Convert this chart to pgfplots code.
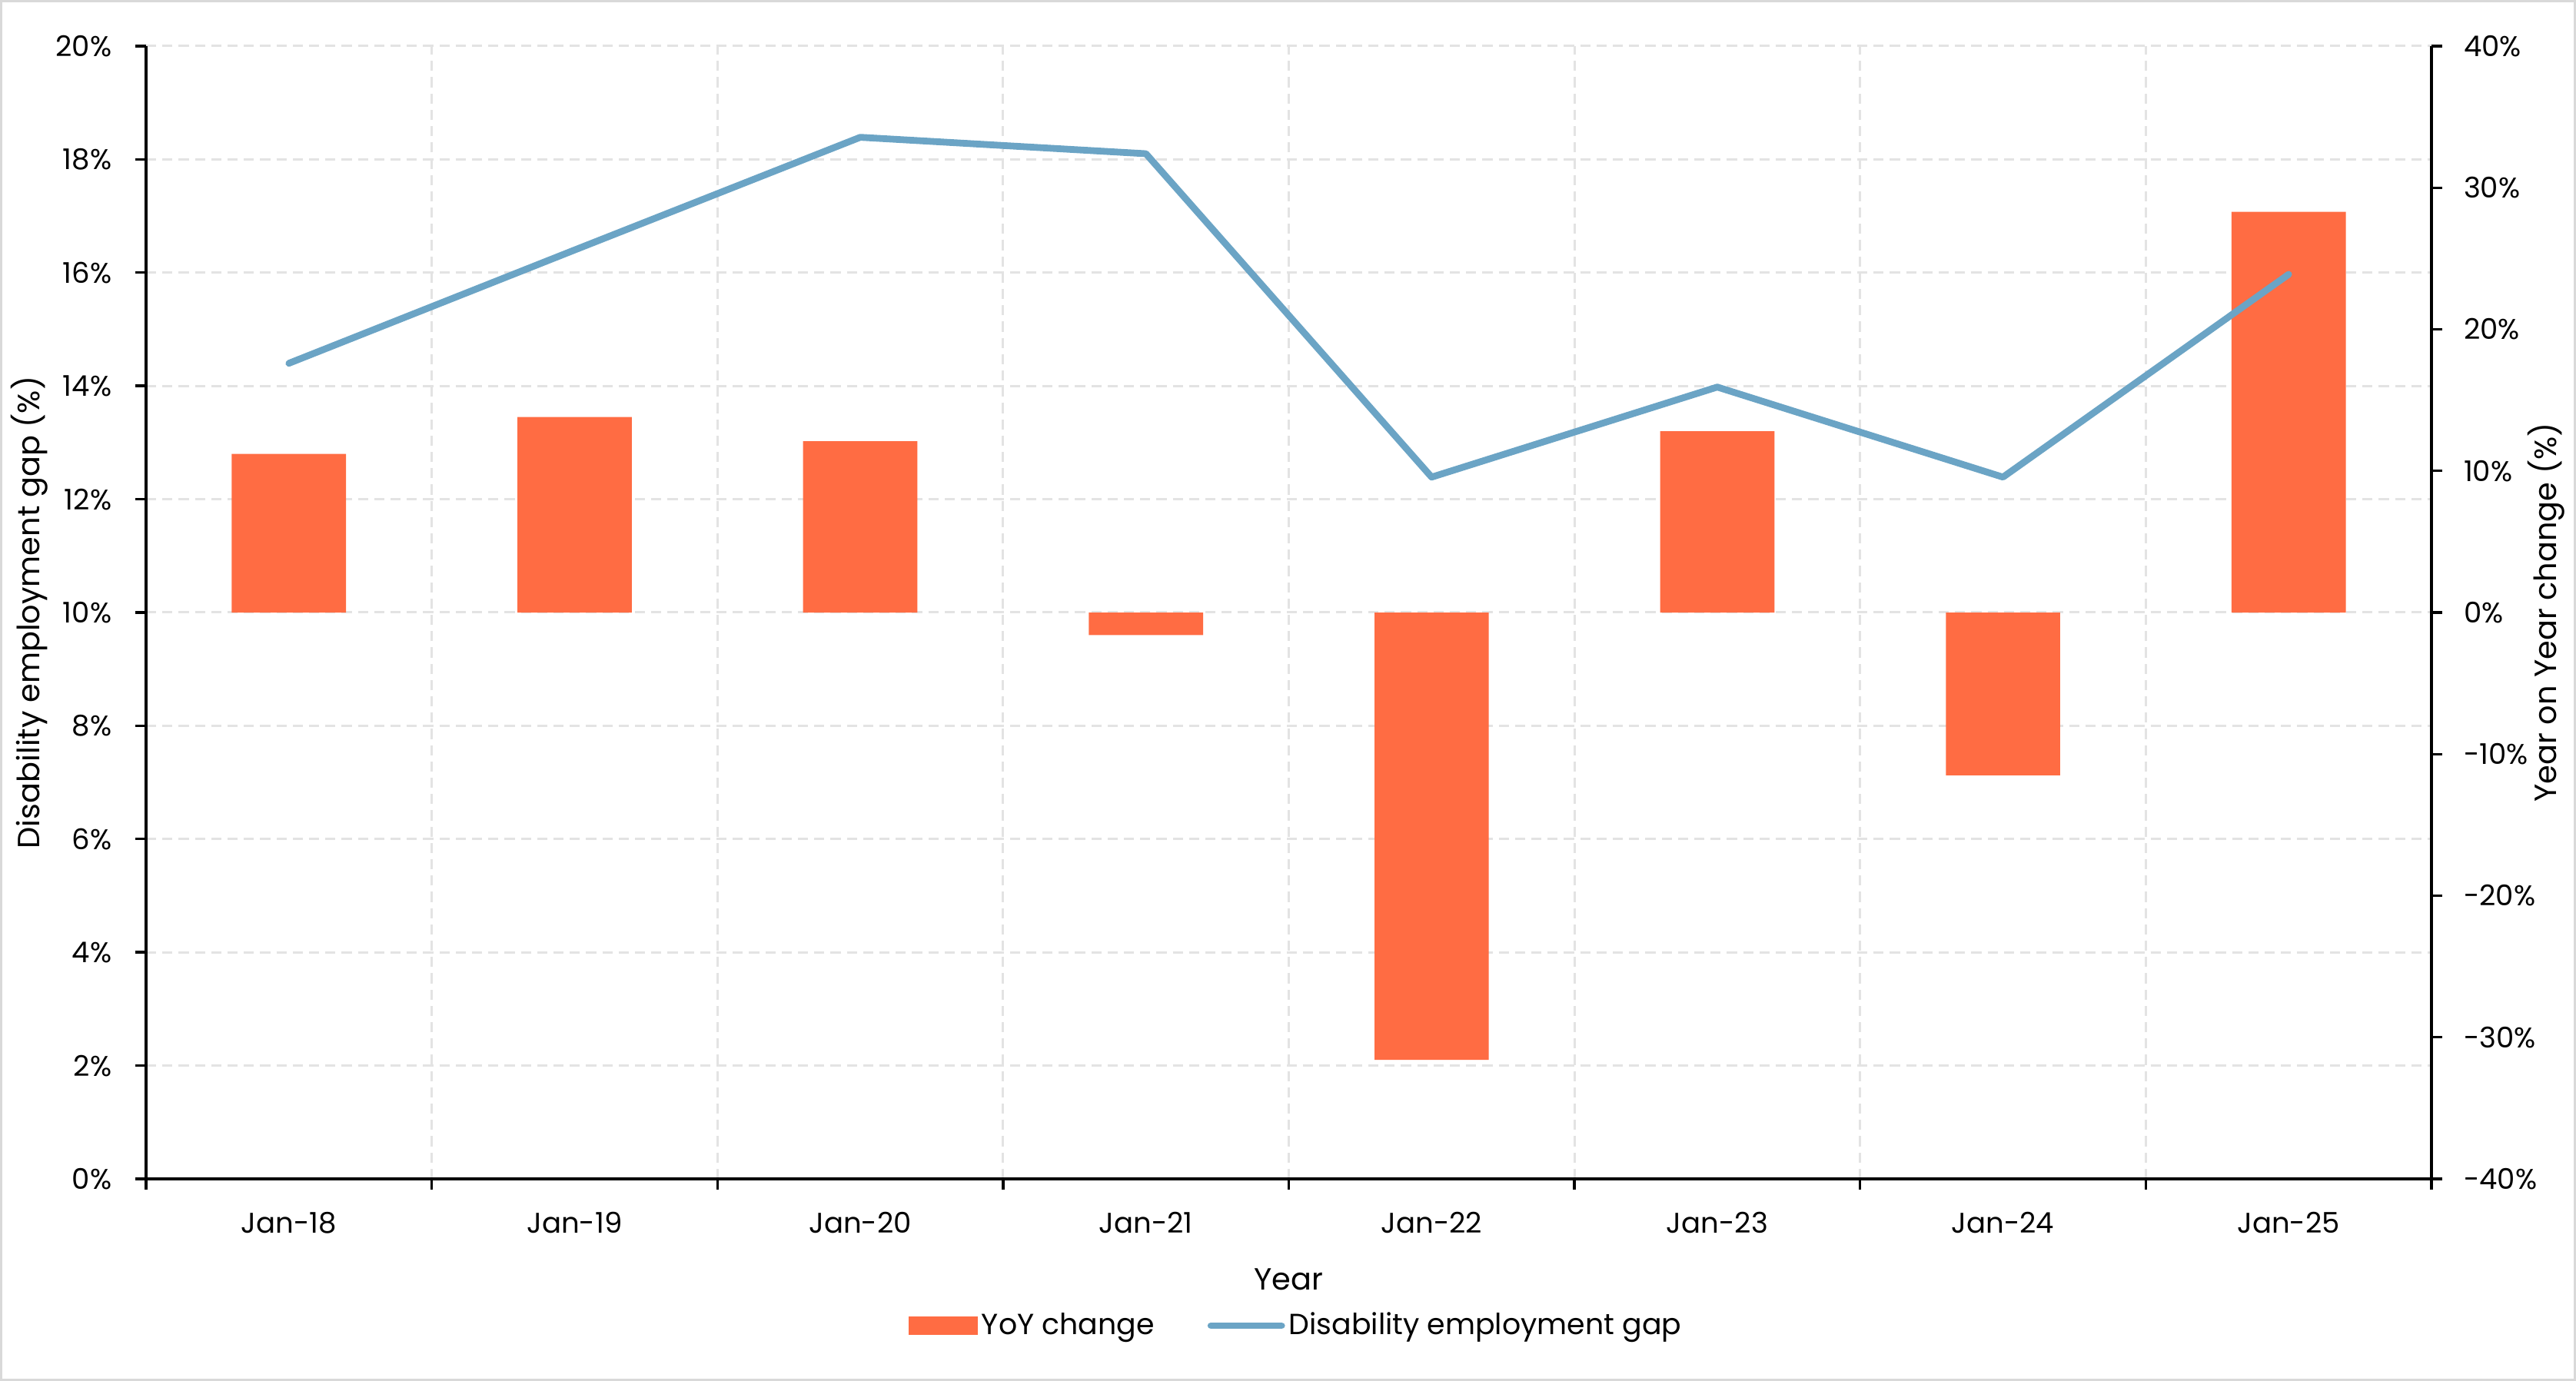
\documentclass[border=0pt]{standalone}
\usepackage{pgfplots}
\usepackage{pgfplotstable}
\pgfplotsset{compat=1.18}
\usepackage{fontspec}
\setmainfont{Poppins}
\definecolor{barc}{HTML}{FF6C43}
\definecolor{linec}{HTML}{6BA4C5}
\definecolor{gridc}{HTML}{E3E3E3}
\definecolor{framec}{HTML}{D9D9D9}

\pgfplotstableread{
x yoy gap
0 11.2 14.40
1 13.8 16.40
2 12.1 18.39
3 -1.6 18.10
4 -31.6 12.39
5 12.8 13.98
6 -11.5 12.39
7 28.3 15.97
}\data

\pgfplotsset{
  common/.style={
    at={(47.5bp,65.75bp)}, anchor=south west,
    scale only axis, width=743.25bp, height=368.5bp,
    xmin=-0.5, xmax=7.5,
    tick label style={font=\fontsize{9.3}{11}\selectfont},
    label style={font=\fontsize{10.9}{12}\selectfont},
    axis line style={black, line width=0.85bp, -},
    every outer x axis line/.append style={-},
    every outer y axis line/.append style={-},
    tick style={black, line width=0.85bp},
    tick align=outside,
    major tick length=3.4bp,
  }
}

\begin{document}
\begin{tikzpicture}
\draw[framec, line width=0.75bp] (0.375bp,0.375bp) rectangle (837.375bp,448.875bp);

% Left axis with grid
\begin{axis}[common,
  ymin=0, ymax=20,
  axis x line*=bottom, axis y line*=left,
  xtick={-0.5,0.5,1.5,2.5,3.5,4.5,5.5,6.5,7.5}, xticklabels={},
  xmajorgrids,
  extra x ticks={0,1,2,3,4,5,6,7},
  extra x tick labels={Jan-18,Jan-19,Jan-20,Jan-21,Jan-22,Jan-23,Jan-24,Jan-25},
  extra x tick style={major tick length=0pt, grid=none},
  xticklabel style={anchor=base, inner sep=0pt, yshift=-17.6bp},
  ytick={0,2,4,6,8,10,12,14,16,18,20},
  yticklabels={0\%,2\%,4\%,6\%,8\%,10\%,12\%,14\%,16\%,18\%,20\%},
  yticklabel style={anchor=east, inner sep=0pt, xshift=-7.6bp},
  ymajorgrids,
  major grid style={gridc, line width=0.75bp, dash pattern=on 3.3bp off 2bp},
  xlabel={Year},
  ylabel={Disability employment gap (\%)},
  every axis x label/.style={at={(rel axis cs:0.5,0)}, yshift=-36bp, anchor=base},
  every axis y label/.style={at={(rel axis cs:0,0.5)}, xshift=-38bp, rotate=90, anchor=center},
]
\end{axis}

% Right axis with bars
\begin{axis}[common,
  ymin=-40, ymax=40,
  axis x line=none, axis y line*=right,
  xtick=\empty,
  ytick={-40,-30,-20,-10,0,10,20,30,40},
  yticklabels={-40\%,-30\%,-20\%,-10\%,0\%,10\%,20\%,30\%,40\%},
  yticklabel style={anchor=west, inner sep=0pt, xshift=6.9bp},
  ylabel={Year on Year change (\%)},
  every axis y label/.style={at={(rel axis cs:1,0.5)}, xshift=37.25bp, rotate=90, anchor=center},
]
\addplot[ybar, bar width=0.4, bar shift=0pt, fill=barc, draw=none] table[x=x,y=yoy]{\data};
\end{axis}

% Line on left scale + legend
\begin{axis}[common,
  ymin=0, ymax=20, hide axis,
  legend style={at={(0.5,0)}, anchor=center, yshift=-47.75bp, xshift=2.7bp,
    draw=none, fill=none, font=\fontsize{9.5}{11}\selectfont,
    nodes={inner sep=1.3bp},
    /tikz/every even column/.append style={column sep=16bp}},
  legend columns=2,
  legend cell align=left,
]
\addlegendimage{legend image code/.code={\fill[barc] (0bp,-2.9bp) rectangle (22bp,2.9bp);}}
\addlegendentry{YoY change}
\addplot[linec, line width=2.2bp, line cap=round, line join=round,
  legend image code/.code={\draw[linec, line width=2.2bp, line cap=round] (0.5bp,0bp) -- (23.5bp,0bp);}]
  table[x=x,y=gap]{\data};
\addlegendentry{Disability employment gap}
\end{axis}
\end{tikzpicture}
\end{document}
